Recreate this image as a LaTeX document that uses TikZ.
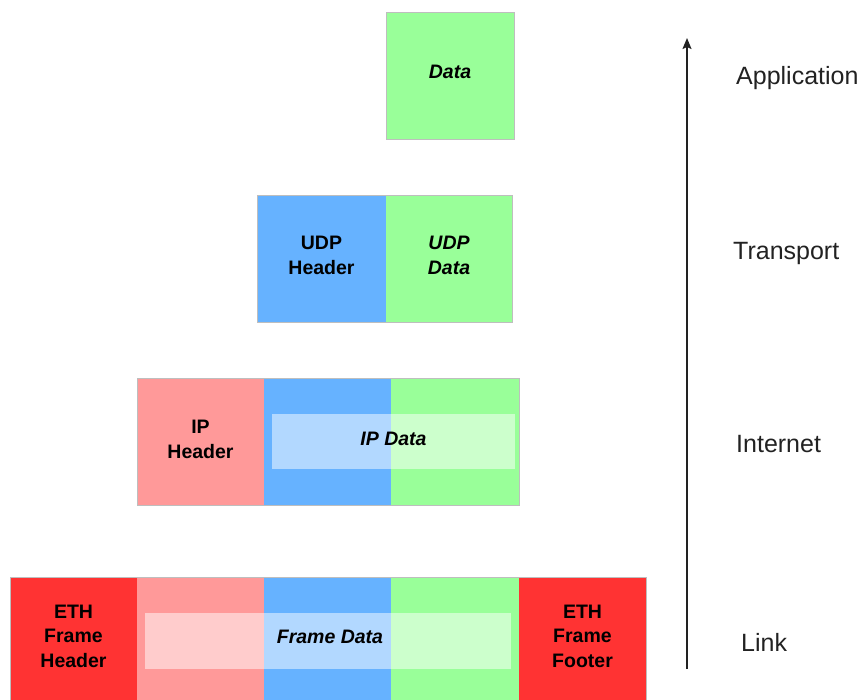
\documentclass[tikz,border=0pt]{standalone}
\usepackage{fontspec}
\setmainfont{Liberation Sans}
\usetikzlibrary{arrows.meta}

\definecolor{appgreen}{HTML}{99FF99}
\definecolor{udpblue}{HTML}{66B2FF}
\definecolor{ippink}{HTML}{FF9999}
\definecolor{ethred}{HTML}{FF3333}
\definecolor{edgegray}{HTML}{BEBEBE}
\definecolor{inkgray}{HTML}{222222}

\begin{document}
\begin{tikzpicture}[x=1pt, y=-1pt,
  cell/.style={draw=none, inner sep=0pt, outer sep=0pt,
               minimum width=#1, minimum height=127pt},
  cell/.default=127pt,
  rowedge/.style={draw=edgegray, line width=0.9pt},
  veil/.style={fill=white, fill opacity=0.5, draw=none, inner sep=0pt,
               minimum height=55pt},
  boxtext/.style={inner sep=0pt, align=center, text=black,
                  font=\fontsize{19.5}{24.5}\selectfont\bfseries},
  layertext/.style={anchor=base west, inner sep=0pt, text=inkgray,
                    font=\fontsize{25}{30}\selectfont}
]
\useasboundingbox (0,0) rectangle (861,699);

% Application layer
\node[cell=128pt, fill=appgreen] (app) at (450,75.5) {};
\draw[rowedge] (app.north west) rectangle (app.south east);
\node[boxtext] (apptxt) at (450,72) {\itshape Data};

% Transport layer
\node[cell=129pt, fill=udpblue] (udph) at (321.5,258.5) {};
\node[cell=126pt, fill=appgreen, anchor=west] (udpd) at (udph.east) {};
\draw[rowedge] (udph.north west) rectangle (udpd.south east);
\node[boxtext] (udphtxt) at (321.5,255.5) {UDP\\Header};
\node[boxtext] (udpdtxt) at (449,255.5) {\itshape UDP\\\itshape Data};

% Internet layer
\node[cell=127pt, fill=ippink] (iph) at (200.5,441.5) {};
\node[cell=127pt, fill=udpblue, anchor=west] (ipu) at (iph.east) {};
\node[cell=128pt, fill=appgreen, anchor=west] (ipd) at (ipu.east) {};
\draw[rowedge] (iph.north west) rectangle (ipd.south east);
\node[veil, minimum width=243pt] (ipveil) at (393.5,441.5) {};
\node[boxtext] (iphtxt) at (200.5,439.5) {IP\\Header};
\node[boxtext] (ipdtxt) at (393.5,439) {\itshape IP Data};

% Link layer
\node[cell=127pt, fill=ethred] (ethh) at (73.5,640.5) {};
\node[cell=127pt, fill=ippink, anchor=west] (lip) at (ethh.east) {};
\node[cell=127pt, fill=udpblue, anchor=west] (ludp) at (lip.east) {};
\node[cell=128pt, fill=appgreen, anchor=west] (ldata) at (ludp.east) {};
\node[cell=127pt, fill=ethred, anchor=west] (ethf) at (ldata.east) {};
\draw[rowedge] (ethh.north west) rectangle (ethf.south east);
\node[veil, minimum width=366pt, minimum height=56pt] (frameveil) at (328,641) {};
\node[boxtext] (ethhtxt) at (73.5,636) {ETH\\Frame\\Header};
\node[boxtext] (ethftxt) at (582.5,636) {ETH\\Frame\\Footer};
\node[boxtext] (frametxt) at (330,637) {\itshape Frame Data};

% Layer axis
\coordinate (axisbottom) at (687,669);
\coordinate (axistop) at (687,38);
\draw[inkgray, line width=1.4pt, -{Stealth[length=11pt, width=9pt, inset=2pt]}]
  (axisbottom) -- (axistop);

\node[layertext] (lapp) at (736,84) {Application};
\node[layertext] (ltrans) at (733,259) {Transport};
\node[layertext] (linet) at (736,452) {Internet};
\node[layertext] (llink) at (741,651) {Link};
\end{tikzpicture}
\end{document}
